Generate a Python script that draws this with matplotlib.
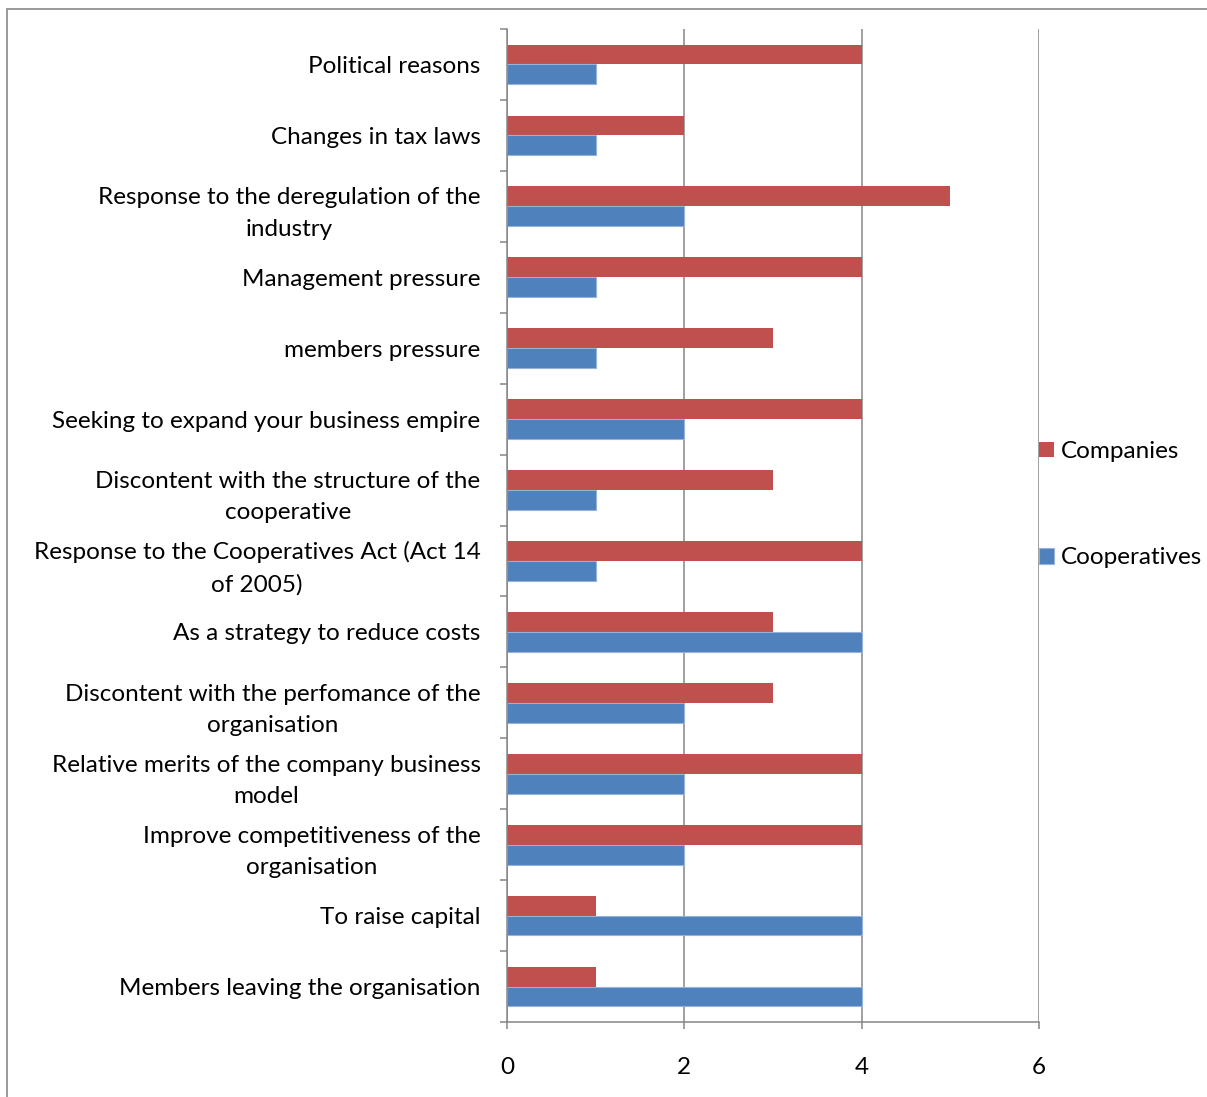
import numpy as np
import matplotlib.pyplot as plt
from matplotlib.patches import Rectangle

# reasons, read top to bottom
categories = [
    "Political reasons",
    "Changes in tax laws",
    "Response to the deregulation of the\nindustry",
    "Management pressure",
    "members pressure",
    "Seeking to expand your business empire",
    "Discontent with the structure of the\ncooperative",
    "Response to the Cooperatives Act (Act 14\nof 2005)",
    "As a strategy to reduce costs",
    "Discontent with the perfomance of the\norganisation",
    "Relative merits of the company business\nmodel",
    "Improve competitiveness of the\norganisation",
    "To raise capital",
    "Members leaving the organisation",
]
companies = [4, 2, 5, 4, 3, 4, 3, 4, 3, 3, 4, 4, 1, 1]
cooperatives = [1, 1, 2, 1, 1, 2, 1, 1, 4, 2, 2, 2, 4, 4]
x_ticks = [0, 2, 4, 6]

RED = "#C0504D"
BLUE = "#4F81BD"
GRAY = "#868686"
FS = 17.5

plt.rcParams['font.family'] = ['Lato', 'DejaVu Sans']

fig = plt.figure(figsize=(12.07, 10.97), dpi=100)
ax = fig.add_axes([507 / 1207, 1 - 1022 / 1097, 532 / 1207, 993 / 1097])

y = np.arange(len(categories))
h = 0.28
ax.barh(y - h / 2, companies, height=h, color=RED, label="Companies", zorder=3)
ax.barh(y + h / 2, cooperatives, height=h, color=BLUE, edgecolor="#95B3D7",
        linewidth=0.8, label="Cooperatives", zorder=3)

ax.set_xlim(0, 6)
ax.set_ylim(len(categories) - 0.5, -0.5)
ax.set_xticks(x_ticks)
ax.set_xticklabels([str(v) for v in x_ticks], fontsize=FS)
ax.set_yticks(y)
ax.set_yticklabels(categories, fontsize=FS, multialignment='center',
                   linespacing=1.6)
ax.set_yticks(np.arange(len(categories) + 1) - 0.5, minor=True)

ax.tick_params(axis='y', which='major', length=0, pad=19)
ax.tick_params(axis='y', which='minor', length=5, color=GRAY, width=1.1)
ax.tick_params(axis='x', length=5, color=GRAY, width=1.1, pad=20)

ax.grid(axis='x', color=GRAY, linewidth=1.1, zorder=0)
for side in ['top', 'right']:
    ax.spines[side].set_visible(False)
for side in ['left', 'bottom']:
    ax.spines[side].set_color(GRAY)
    ax.spines[side].set_linewidth(1.1)
    ax.spines[side].set_zorder(4)

handles, labels = ax.get_legend_handles_labels()
ax.legend(handles, labels, loc='center left', bbox_to_anchor=(1.0, 0.521),
          frameon=False, fontsize=FS, handlelength=0.62, handleheight=0.62,
          handletextpad=0.3, borderpad=0, borderaxespad=0, labelspacing=3.5)

# outer chart border (cut off at right and bottom)
fig.patches.append(Rectangle((7 / 1207, -0.1), 1.2, 1.1 - 9 / 1097,
                             transform=fig.transFigure, fill=False,
                             edgecolor="#898989", linewidth=1.2))

fig.savefig("out.png", dpi=100)
